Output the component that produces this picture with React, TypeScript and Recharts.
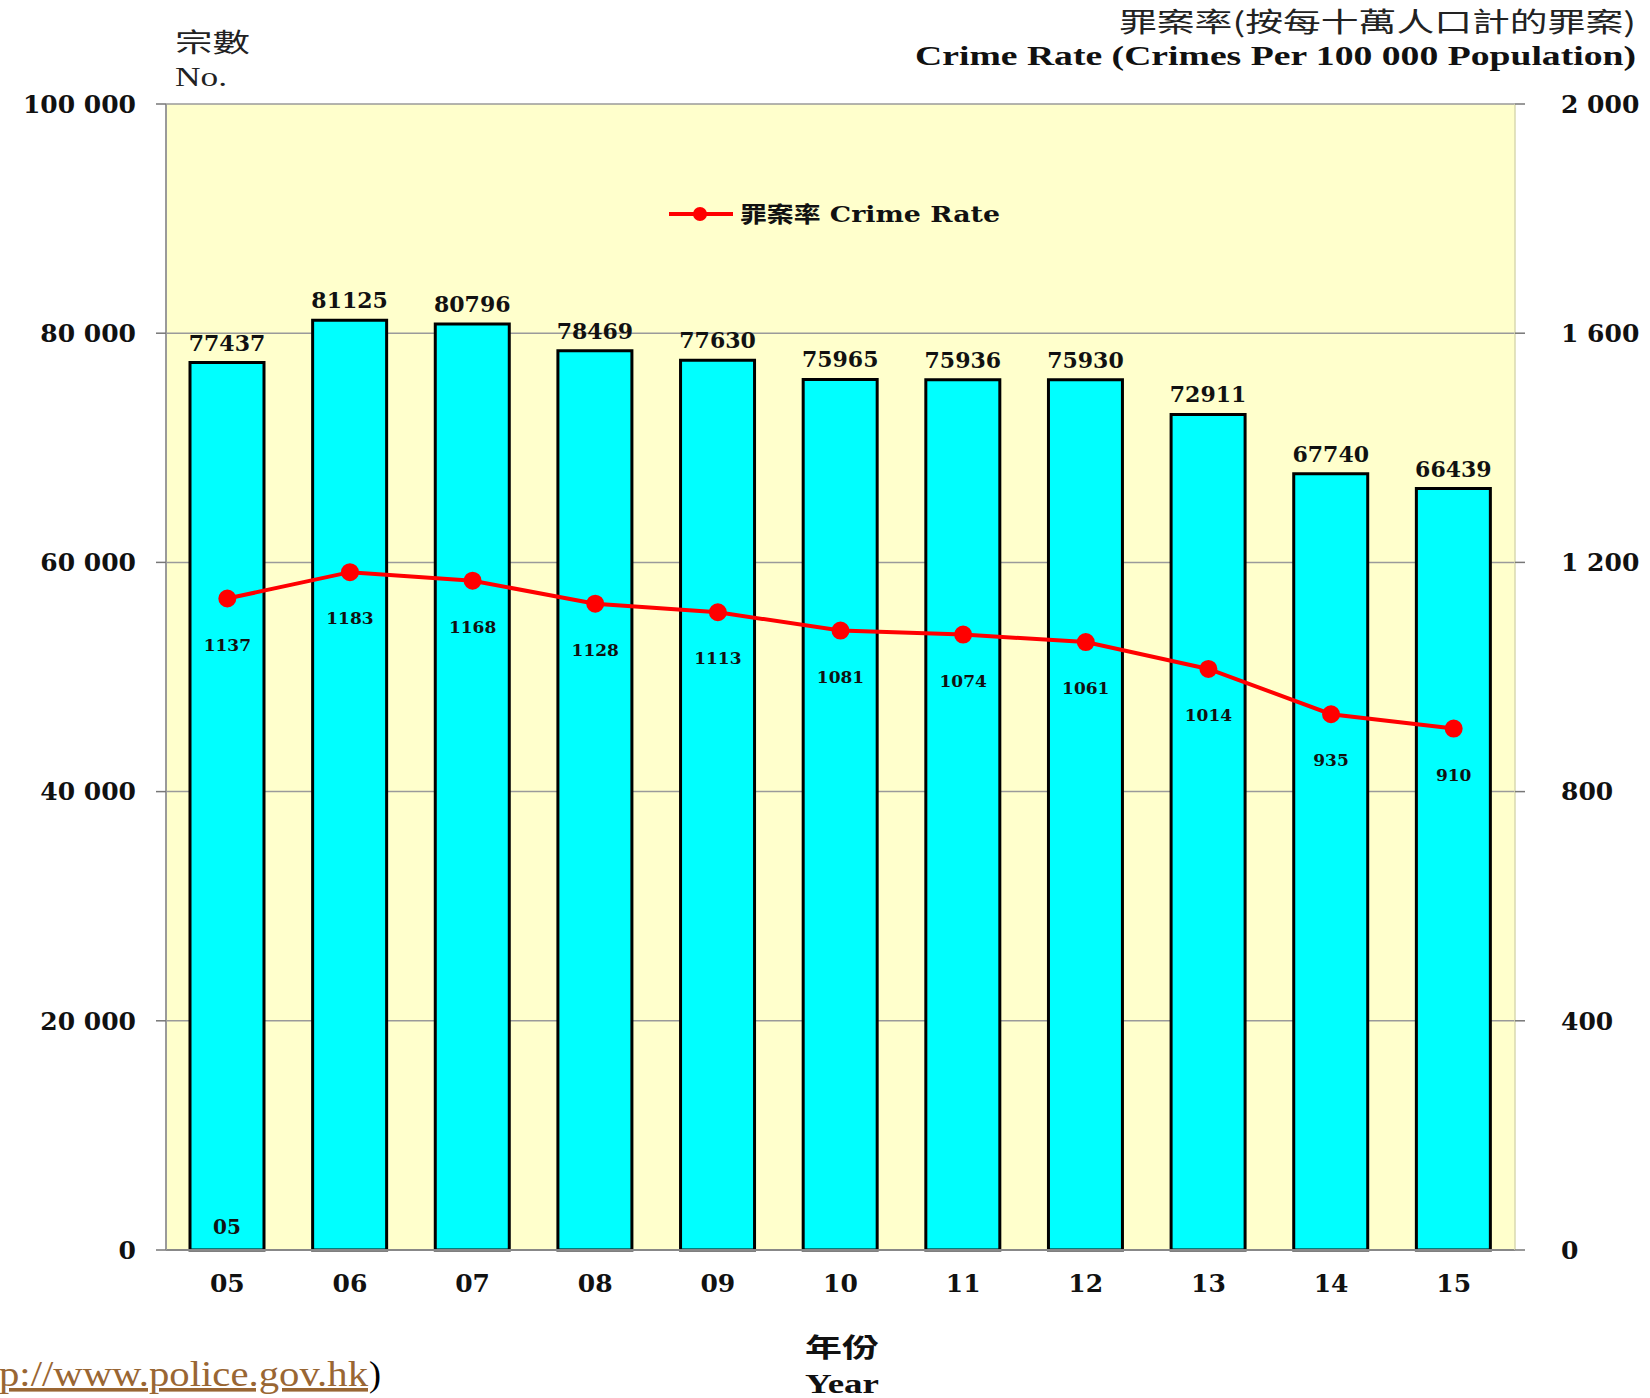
import { ComposedChart, Bar, Line, XAxis, YAxis, CartesianGrid, LabelList } from "recharts"

const years = ["05", "06", "07", "08", "09", "10", "11", "12", "13", "14", "15"]
const crimes = [77437, 81125, 80796, 78469, 77630, 75965, 75936, 75930, 72911, 67740, 66439]
const crimeRate = [1137, 1183, 1168, 1128, 1113, 1081, 1074, 1061, 1014, 935, 910]
const countTicks = [0, 20000, 40000, 60000, 80000, 100000]
const rateTicks = [0, 400, 800, 1200, 1600, 2000]

const data = years.map((year, i) => ({ year, crimes: crimes[i], rate: crimeRate[i] }))

const numFont = "'DejaVu Serif', serif"
const cjkFont = "'Noto Sans CJK TC', sans-serif"
const serif = "'Liberation Serif', serif"

// 100000 -> "100 000"
const fmt = (v: number) =>
    v >= 1000 ? `${Math.floor(v / 1000)} ${String(v % 1000).padStart(3, "0")}` : String(v)

const axisTick = { fill: "#111", fontFamily: numFont, fontWeight: 700, fontSize: 25 }

// the stray "05" printed near the foot of the first bar
const FootLabel = (p: any) => {
    const vb = p.viewBox ?? p
    if (p.value !== years[0]) return null
    return (
        <text x={vb.x + vb.width / 2} y={vb.y + vb.height - 16} textAnchor="middle"
            fontFamily={numFont} fontWeight={700} fontSize={20} fill="#111">
            {p.value}
        </text>
    )
}

export default function App() {
    return (
        <div style={{ position: "absolute", left: 0, top: 0, width: 1650, height: 1398, background: "#fff", overflow: "hidden" }}>
            <ComposedChart width={1650} height={1398} data={data} margin={{ top: 104, right: 0, bottom: 0, left: 0 }}>
                <CartesianGrid yAxisId="left" vertical={false} stroke="#9a9a9a" strokeWidth={1.5} fill="#FFFFCC" fillOpacity={1} />
                <XAxis
                    dataKey="year"
                    height={148}
                    axisLine={{ stroke: "#888", strokeWidth: 2 }}
                    tickLine={false}
                    tickMargin={18}
                    tick={axisTick}
                />
                <YAxis
                    yAxisId="left"
                    width={166}
                    domain={[0, 100000]}
                    ticks={countTicks}
                    tickFormatter={fmt}
                    tickSize={10}
                    tickMargin={20}
                    axisLine={{ stroke: "#9a9a9a", strokeWidth: 2 }}
                    tickLine={{ stroke: "#777", strokeWidth: 1.5 }}
                    tick={axisTick}
                />
                <YAxis
                    yAxisId="right"
                    orientation="right"
                    width={135}
                    domain={[0, 2000]}
                    ticks={rateTicks}
                    tickFormatter={fmt}
                    tickSize={10}
                    tickMargin={36}
                    axisLine={{ stroke: "#d8d8b0", strokeWidth: 1.5 }}
                    tickLine={{ stroke: "#777", strokeWidth: 1.5 }}
                    tick={axisTick}
                />
                <Bar yAxisId="left" dataKey="crimes" fill="#00FFFF" stroke="#000" strokeWidth={3} barSize={74} isAnimationActive={false}>
                    <LabelList dataKey="crimes" position="top" offset={12}
                        style={{ fill: "#111", fontFamily: numFont, fontWeight: 700, fontSize: 22 }} />
                    <LabelList dataKey="year" content={FootLabel} />
                </Bar>
                <Line yAxisId="right" dataKey="rate" stroke="#FF0000" strokeWidth={4}
                    dot={{ r: 7, fill: "#FF0000", stroke: "#FF0000" }} isAnimationActive={false}>
                    <LabelList dataKey="rate" position="bottom" offset={40}
                        style={{ fill: "#111", fontFamily: numFont, fontWeight: 700, fontSize: 17 }} />
                </Line>
            </ComposedChart>

            <svg width={1650} height={1398} style={{ position: "absolute", left: 0, top: 0, pointerEvents: "none" }}>
                {/* legend */}
                <line x1={669} y1={214} x2={733} y2={214} stroke="#FF0000" strokeWidth={4} />
                <circle cx={700} cy={214} r={7} fill="#FF0000" />
                <text x={740} y={222} textLength={260} lengthAdjust="spacingAndGlyphs"
                    fontFamily={numFont} fontWeight={700} fontSize={22} fill="#111">
                    <tspan fontFamily={cjkFont}>罪案率</tspan> Crime Rate
                </text>

                <text x={175} y={52} textLength={75} lengthAdjust="spacingAndGlyphs" fontFamily={cjkFont} fontSize={26} fill="#222">宗數</text>
                <text x={175} y={86} textLength={52} lengthAdjust="spacingAndGlyphs" fontFamily={serif} fontSize={27} fill="#222">No.</text>
                <text x={1119} y={32} textLength={517} lengthAdjust="spacingAndGlyphs" fontFamily={cjkFont} fontSize={27} fill="#222">罪案率(按每十萬人口計的罪案)</text>
                <text x={915} y={65} textLength={721} lengthAdjust="spacingAndGlyphs" fontFamily={serif} fontWeight={700} fontSize={27} fill="#111">Crime Rate (Crimes Per 100 000 Population)</text>
                <text x={805} y={1357} textLength={74} lengthAdjust="spacingAndGlyphs" fontFamily={cjkFont} fontWeight={700} fontSize={26} fill="#111">年份</text>
                <text x={805} y={1393} textLength={74} lengthAdjust="spacingAndGlyphs" fontFamily={serif} fontWeight={700} fontSize={27} fill="#111">Year</text>
                <text x={-44} y={1386} textLength={412} lengthAdjust="spacingAndGlyphs" fontFamily={serif} fontSize={36} fill="#996633" textDecoration="underline">http://www.police.gov.hk</text>
                <text x={369} y={1386} fontFamily={serif} fontSize={36} fill="#000">)</text>
            </svg>
        </div>
    )
}
